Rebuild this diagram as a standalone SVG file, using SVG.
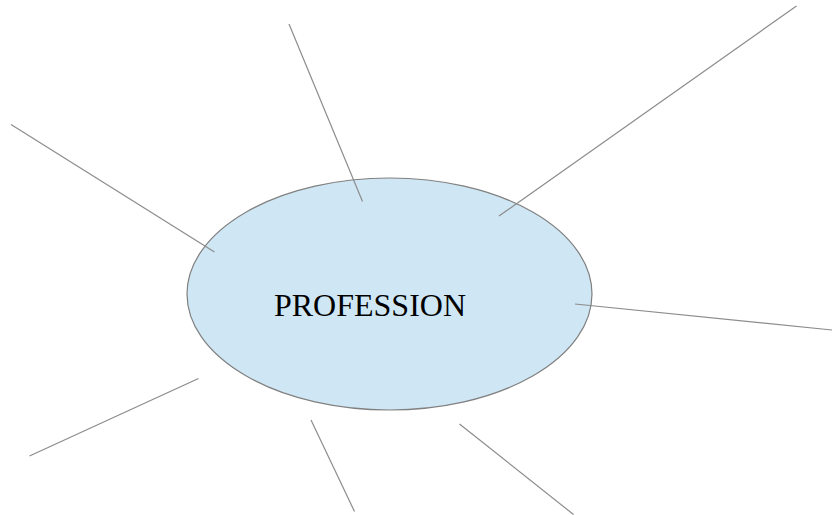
<svg xmlns="http://www.w3.org/2000/svg" width="832" height="515" viewBox="0 0 832 515">
<style>
.conn line{stroke:#8c8c8c;stroke-width:1.2;fill:none}
.node ellipse{fill:#cfe6f4;stroke:#808080;stroke-width:1.2}
.label{font-family:"Liberation Serif","Times New Roman",serif;font-size:32px;fill:#000}
</style>
<rect width="832" height="515" fill="#fff"/>
<g id="profession" class="node">
<ellipse cx="389.5" cy="294" rx="202.5" ry="116"/>
<text class="label" x="370" y="316" text-anchor="middle">PROFESSION</text>
</g>
<g id="connectors" class="conn">
<line x1="289" y1="24" x2="362.5" y2="201.5"/>
<line x1="11" y1="124.5" x2="214.5" y2="252"/>
<line x1="796.5" y1="6" x2="499" y2="216"/>
<line x1="575" y1="304" x2="832" y2="330"/>
<line x1="198.5" y1="378.5" x2="29.5" y2="456"/>
<line x1="311" y1="420" x2="354.5" y2="511.5"/>
<line x1="459.5" y1="424" x2="573.5" y2="514.5"/>
</g>
</svg>
